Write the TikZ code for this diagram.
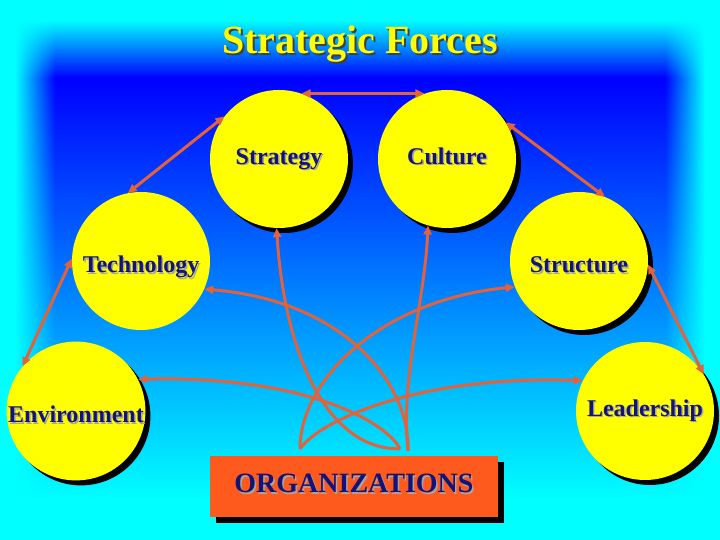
\documentclass[tikz,border=0pt]{standalone}
\usepackage{fontspec}
\setmainfont{Liberation Serif}
\usepackage{tikz}
\usetikzlibrary{arrows.meta, calc, fadings, shadows}

\definecolor{forcered}{RGB}{228,98,58}
\definecolor{orgorange}{RGB}{255,90,30}
\definecolor{labelblue}{RGB}{20,20,120}
\definecolor{forceyellow}{RGB}{255,255,0}
\definecolor{bgcyan}{RGB}{0,255,255}
\definecolor{bgblue}{RGB}{0,0,255}

\tikzfading[name=fade out east, left color=transparent!0, right color=transparent!100]
\tikzfading[name=fade out west, left color=transparent!100, right color=transparent!0]

\newcommand\shadowed[3]{\makebox[0pt][l]{\hspace{#1}\raisebox{-#1}{\textcolor{#2}{#3}}}#3}
\newcommand\forcelink[4]{
    \draw [forcearrow,->] (#1) .. controls (#2) and (#3) .. (#4);
}

\tikzstyle{forcenode}          = [circle,fill=forceyellow,minimum size=138pt,inner sep=0pt,text=labelblue,font=\bfseries\fontsize{24}{28}\selectfont,text height=16pt,text depth=5pt]
\tikzstyle{forcenode shadowed} = [forcenode,drop shadow={shadow xshift=5pt,shadow yshift=-5pt,opacity=1,fill=black}]
\tikzstyle{lowtext}            = [text height=28pt,text depth=4pt]
\tikzstyle{orgbox}             = [rectangle,fill=orgorange,minimum width=288pt,minimum height=61pt,text=labelblue,font=\bfseries\fontsize{28}{32}\selectfont,text depth=6pt,drop shadow={shadow xshift=6pt,shadow yshift=-6pt,opacity=1,fill=black}]
\tikzstyle{titletext}          = [text=forceyellow,font=\bfseries\fontsize{40}{44}\selectfont]
\tikzstyle{forcearrow}         = [draw=forcered,line width=3pt,>={Triangle[length=9pt,width=8pt]}]

\begin{document}
\begin{tikzpicture}[x=1pt,y=1pt]
        % backdrop
        \useasboundingbox (0,0) rectangle (720,540);
        \fill  [bgcyan]                                (0,0)   rectangle (720,40);
        \shade [top color=bgblue,bottom color=bgcyan]  (0,40)  rectangle (720,462);
        \shade [top color=bgcyan,bottom color=bgblue]  (0,462) rectangle (720,520);
        \fill  [bgcyan]                                (0,520) rectangle (720,540);
        \fill  [bgcyan]                                (0,0)   rectangle (15,540);
        \fill  [bgcyan,path fading=fade out east]      (15,0)  rectangle (55,540);
        \fill  [bgcyan]                                (705,0) rectangle (720,540);
        \fill  [bgcyan,path fading=fade out west]      (665,0) rectangle (705,540);

        \node[titletext,anchor=base]      (title)       at (360,486)  {\shadowed{2pt}{black!75}{Strategic Forces}};

        \node[forcenode shadowed]         (strategy)    at (279,381)  {\shadowed{1.5pt}{black!35}{Strategy}};
        \node[forcenode shadowed]         (culture)     at (447,381)  {\shadowed{1.5pt}{black!35}{Culture}};
        \node[forcenode,lowtext]          (technology)  at (141,279)  {\shadowed{1.5pt}{black!35}{Technology}};
        \node[forcenode shadowed,lowtext] (structure)   at (579,279)  {\shadowed{1.5pt}{black!35}{Structure}};
        \node[forcenode shadowed,lowtext] (environment) at (76,129)   {\shadowed{1.5pt}{black!35}{Environment}};
        \node[forcenode shadowed]         (leadership)  at (645,129)  {\shadowed{1.5pt}{black!35}{Leadership}};
        \node[orgbox]                     (org)         at (354,53.5) {\shadowed{1.5pt}{black!35}{ORGANIZATIONS}};

        \coordinate (org left)  at ($(org.north)+(-54,7)$);
        \coordinate (org mid)   at ($(org.north)+(46,7)$);
        \coordinate (org right) at ($(org.north)+(54,5)$);

        \draw[forcearrow,<->] (strategy.71)   -- (culture.109);
        \draw[forcearrow,<->] (strategy.142)  -- (technology.101);
        \draw[forcearrow,<->] (culture.32)    -- (structure.68);
        \draw[forcearrow,<->] (technology.178) -- (environment.140);
        \draw[forcearrow,<->] (structure.357) -- (leadership.32);

        \forcelink{org mid}{330,90}{285,180}{strategy.268}
        \forcelink{org mid}{385,120}{300,165}{environment.27}
        \forcelink{org left}{320,120}{420,165}{leadership.154}
        \forcelink{org left}{300,160}{380,240}{structure.202}
        \forcelink{org right}{410,160}{340,240}{technology.336}
        \forcelink{org right}{400,160}{425,240}{culture.254}
\end{tikzpicture}
\end{document}
